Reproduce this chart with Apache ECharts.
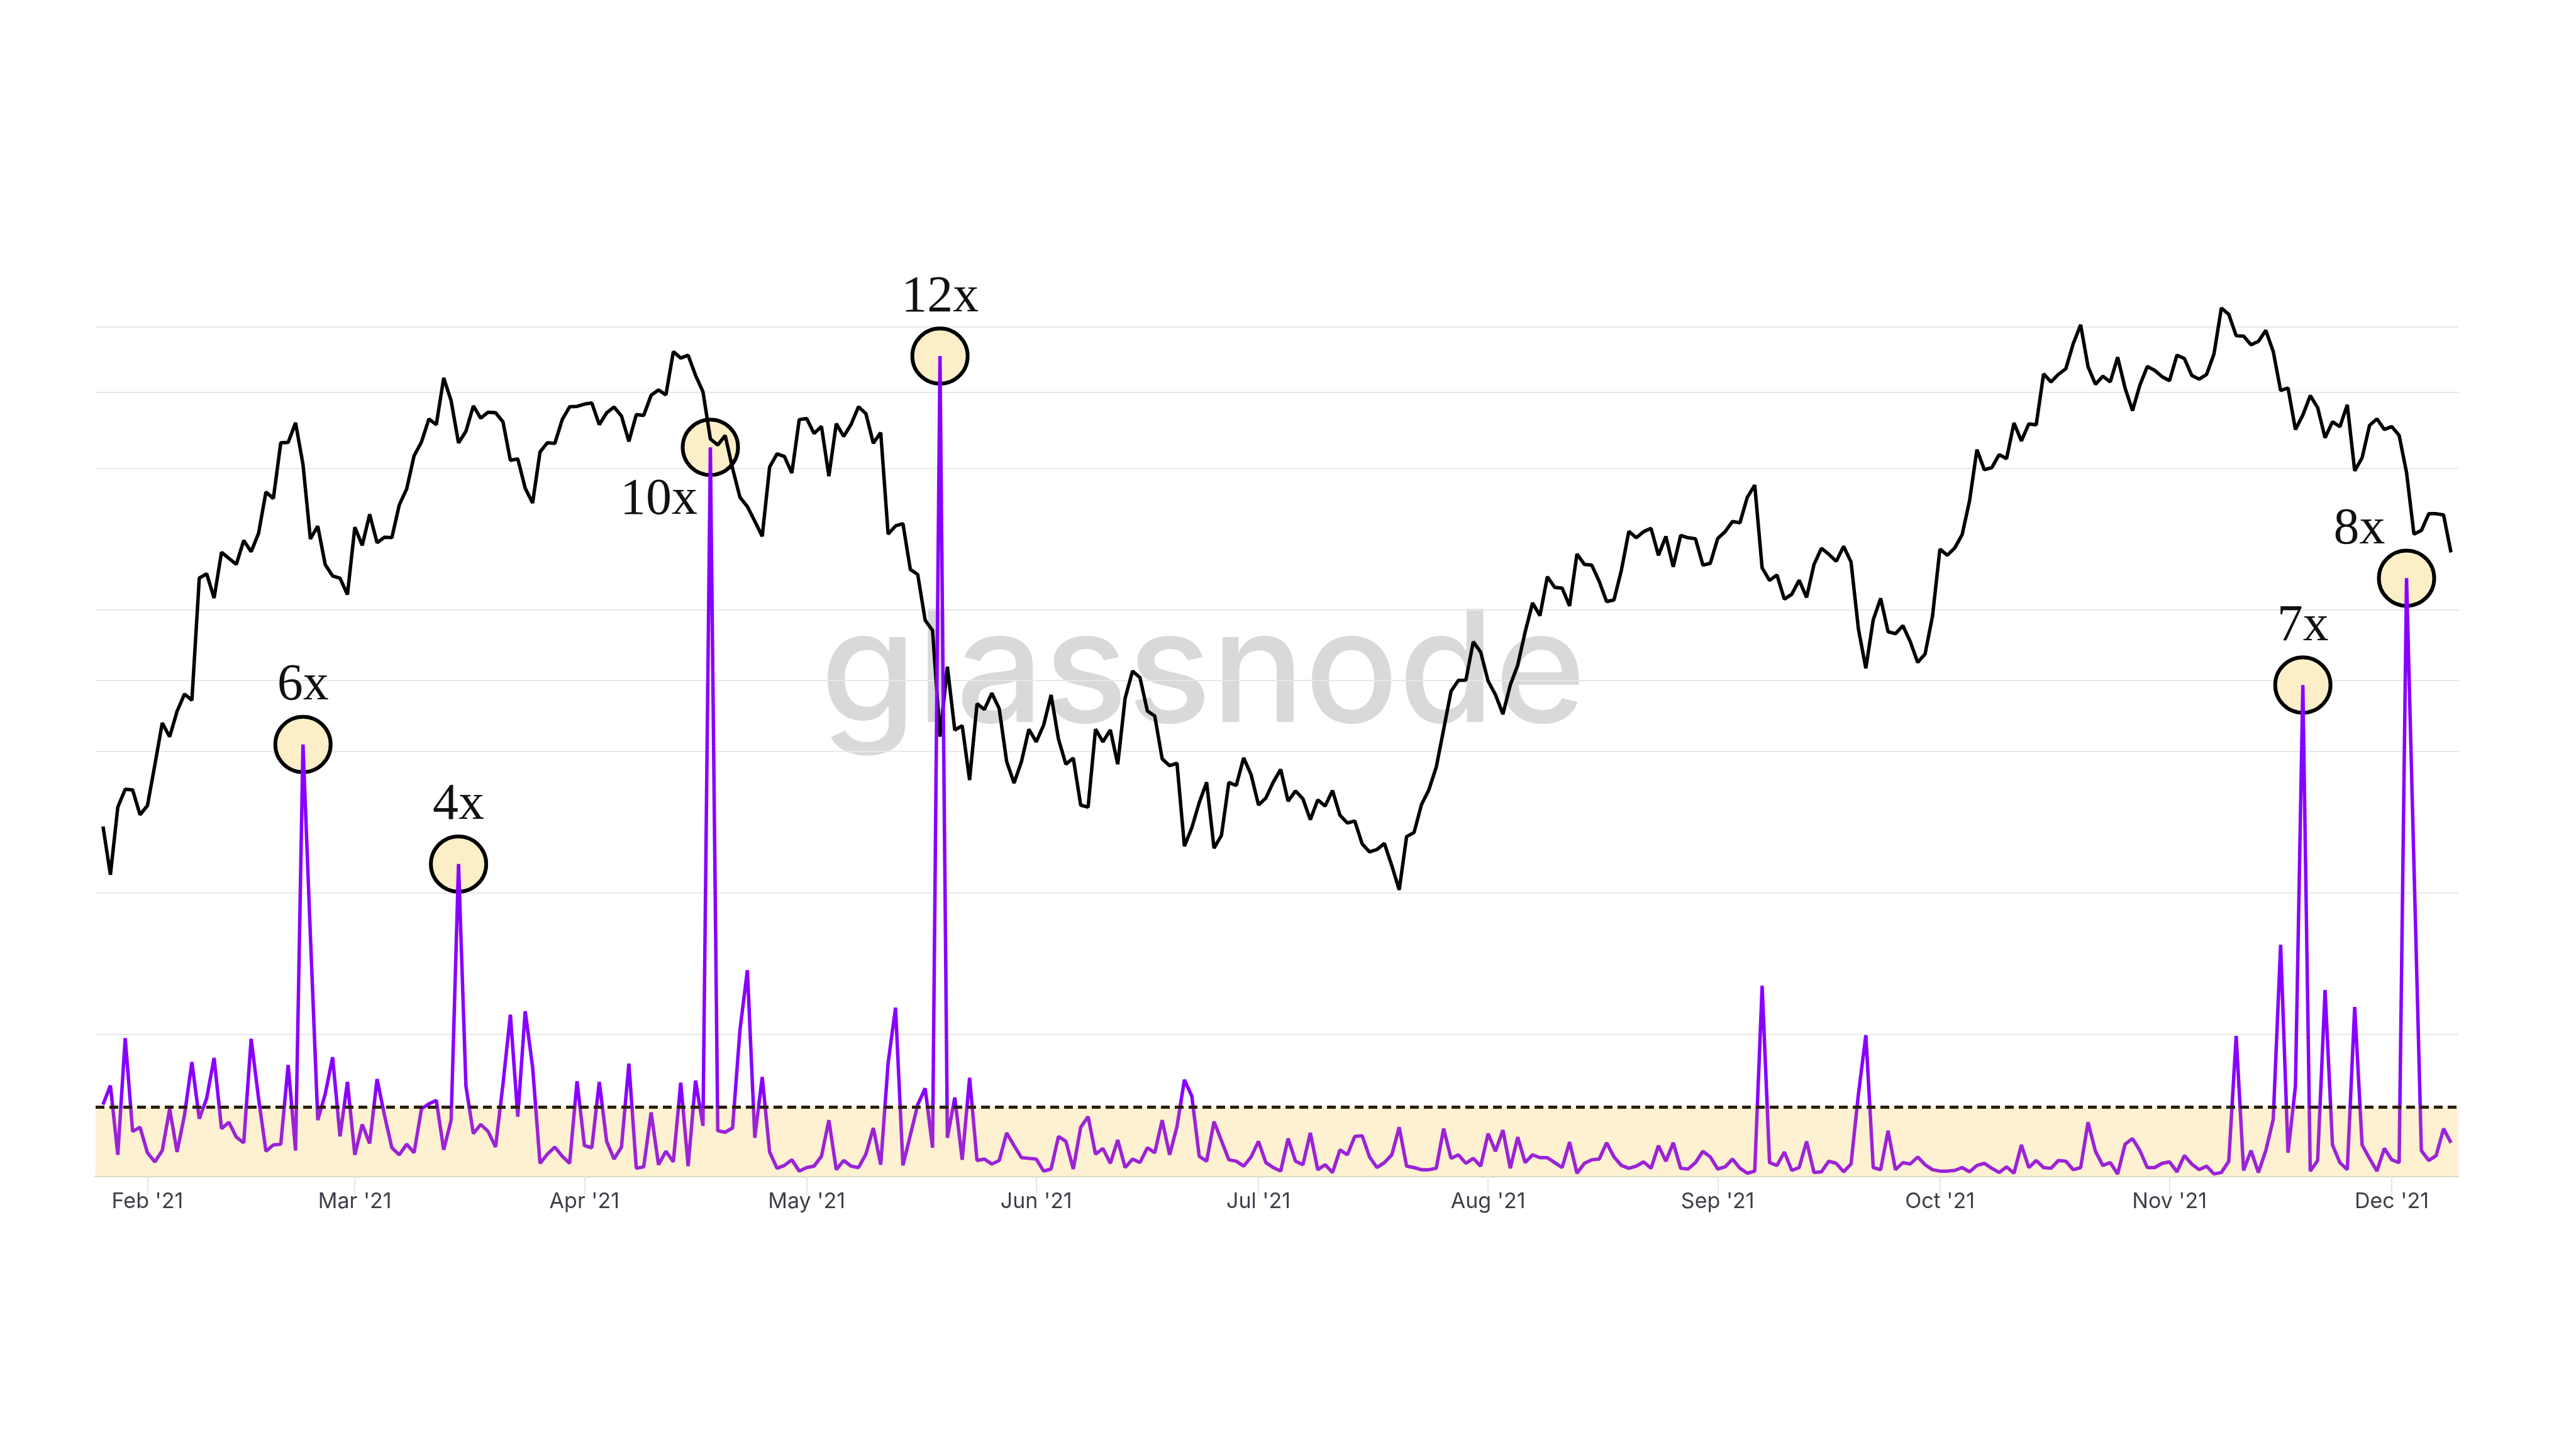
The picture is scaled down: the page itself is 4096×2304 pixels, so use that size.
<!DOCTYPE html>
<html>
<head>
<meta charset="utf-8">
<script src="https://cdn.jsdelivr.net/npm/echarts@6/dist/echarts.min.js"></script>
<style>
html,body{margin:0;padding:0;background:#ffffff;}
#chart{width:4096px;height:2304px;}
</style>
</head>
<body>
<div id="chart"></div>
<script>
// ---------- DATA ----------
// Daily BTC price (USD), starting 2021-01-26
const priceFirstDate = '2021-01-26';
const priceJan = [32570, 30430, 33470, 34320, 34290, 33110];
const priceFeb = [33540, 35520, 37680, 36950, 38300, 39240, 38900, 46200, 46480, 44920,
                  47910, 47500, 47100, 48720, 47950, 49200, 52150, 51680, 55890, 55920,
                  57490, 54210, 48820, 49700, 47090, 46340, 46190, 45140];
const priceMar = [49630, 48380, 50540, 48560, 48930, 48910, 51210, 52380, 54880, 55960,
                  57800, 57330, 61240, 59300, 55880, 56810, 58870, 57860, 58350, 58310,
                  57560, 54530, 54640, 52430, 51350, 55170, 55900, 55840, 57750, 58800, 58830];
const priceApr = [59020, 59110, 57340, 58300, 58780, 58040, 56000, 58150, 58090, 59760,
                  60210, 59790, 63540, 62970, 63220, 61460, 60060, 56200, 55720, 56470,
                  53910, 51760, 51090, 50050, 49000, 54020, 55030, 54820, 53560, 57750];
const priceMay = [57830, 56630, 57200, 53330, 57420, 56400, 57360, 58800, 58230, 55860,
                  56700, 49150, 49720, 49880, 46760, 46430, 43540, 42910, 36960, 40780,
                  37300, 37530, 34770, 38710, 38400, 39290, 38440, 35690, 34620, 35680, 37340];
const priceJun = [36690, 37570, 39190, 36830, 35550, 35860, 33560, 33470, 37350, 36690,
                  37310, 35550, 39020, 40530, 40160, 38320, 38050, 35820, 35480, 35600,
                  31680, 32510, 33680, 34660, 31590, 32160, 34650, 34500, 35870, 35040];
const priceJul = [33570, 33900, 34670, 35290, 33750, 34240, 33860, 32880, 33810, 33520,
                  34260, 33090, 32730, 32820, 31780, 31420, 31530, 31800, 30820, 29790,
                  32110, 32290, 33580, 34290, 35400, 37340, 39400, 40010, 40020, 42240, 41630];
const priceAug = [39970, 39200, 38150, 39750, 40870, 42820, 44610, 43820, 46290, 45600,
                  45550, 44430, 47790, 47100, 47050, 45990, 44700, 44800, 46720, 49340,
                  48900, 49320, 49550, 47700, 48990, 46940, 49060, 48900, 48830, 47050, 47170];
const priceSep = [48850, 49320, 50030, 49940, 51770, 52660, 46860, 46050, 46400, 44850,
                  45160, 46060, 44960, 47090, 48180, 47780, 47300, 48310, 47260, 43000,
                  40690, 43570, 44900, 42840, 42720, 43210, 42240, 41030, 41520, 43790];
const priceOct = [48120, 47710, 48200, 49110, 51510, 55360, 53810, 53970, 54970, 54660,
                  57470, 56040, 57400, 57320, 61590, 60890, 61550, 62030, 64260, 65990,
                  62210, 60690, 61390, 60890, 63040, 60360, 58480, 60620, 62230, 61890, 61340];
const priceNov = [61000, 63230, 62940, 61450, 61130, 61530, 63330, 67570, 66970, 64980,
                  64950, 64160, 64470, 65470, 63560, 60160, 60370, 56940, 58120, 59730,
                  58730, 56290, 57570, 57170, 58960, 53730, 54720, 57270, 57810, 56950];
const priceDec = [57180, 56480, 53600, 49150, 49400, 50580, 50580, 50500, 47900];

// Purple ratio series (multiples of its mean), starting 2021-01-26
const ratioFirstDate = '2021-01-26';
const ratio = [
  1.01,1.28,0.30,1.95,0.63,0.69,0.33,0.20,0.36,0.95,
  0.34,0.86,1.61,0.81,1.10,1.67,0.67,0.76,0.55,0.47,
  1.94,1.10,0.35,0.44,0.45,1.57,0.36,6.10,3.40,0.79,
  1.16,1.68,0.56,1.33,0.30,0.73,0.46,1.37,0.86,0.40,
  0.30,0.45,0.33,0.95,1.02,1.07,0.37,0.79,4.41,1.27,
  0.60,0.73,0.63,0.41,1.30,2.28,0.84,2.33,1.54,0.18,
  0.31,0.41,0.28,0.18,1.34,0.43,0.40,1.33,0.49,0.24,
  0.41,1.59,0.11,0.13,0.90,0.16,0.35,0.20,1.32,0.14,
  1.35,0.71,10.30,0.64,0.62,0.68,2.07,2.91,0.54,1.40,
  0.34,0.11,0.15,0.23,0.07,0.12,0.14,0.28,0.79,0.09,
  0.22,0.14,0.12,0.31,0.68,0.16,1.60,2.38,0.15,0.58,
  1.01,1.24,0.40,11.59,0.54,1.11,0.23,1.39,0.22,0.24,
  0.17,0.22,0.61,0.43,0.26,0.25,0.24,0.07,0.10,0.56,
  0.49,0.10,0.69,0.84,0.31,0.39,0.18,0.51,0.12,0.24,
  0.19,0.40,0.33,0.79,0.30,0.70,1.36,1.13,0.28,0.21,
  0.77,0.50,0.23,0.21,0.14,0.27,0.49,0.19,0.12,0.07,
  0.53,0.21,0.16,0.61,0.09,0.16,0.05,0.37,0.30,0.56,
  0.57,0.27,0.12,0.19,0.30,0.69,0.14,0.12,0.09,0.09,
  0.11,0.67,0.25,0.30,0.18,0.25,0.14,0.60,0.35,0.65,
  0.11,0.55,0.19,0.30,0.26,0.26,0.19,0.12,0.48,0.04,
  0.18,0.23,0.24,0.47,0.27,0.15,0.11,0.14,0.20,0.11,
  0.43,0.21,0.47,0.11,0.10,0.19,0.35,0.27,0.10,0.13,
  0.24,0.11,0.04,0.07,2.69,0.19,0.15,0.34,0.08,0.12,
  0.49,0.05,0.06,0.21,0.18,0.06,0.17,1.16,1.99,0.12,
  0.09,0.64,0.09,0.19,0.17,0.27,0.16,0.09,0.07,0.07,
  0.08,0.12,0.06,0.15,0.18,0.11,0.05,0.13,0.04,0.44,
  0.12,0.22,0.12,0.11,0.22,0.21,0.09,0.12,0.76,0.35,
  0.15,0.19,0.03,0.45,0.53,0.36,0.12,0.12,0.18,0.20,
  0.06,0.29,0.17,0.09,0.14,0.03,0.05,0.21,1.98,0.08,
  0.36,0.05,0.36,0.80,3.27,0.33,1.27,6.94,0.07,0.22,
  2.63,0.44,0.19,0.09,2.39,0.44,0.25,0.07,0.39,0.23,
  0.19,8.45,4.40,0.36,0.22,0.29,0.67,0.47
];

// Dashed threshold (mean level of the ratio)
const threshold = 0.978;

// Annotated spikes
const annotationDates  = ['2021-02-22', '2021-03-15', '2021-04-18', '2021-05-19', '2021-11-19', '2021-12-03'];
const annotationLabels = ['6x', '4x', '10x', '12x', '7x', '8x'];

// Price gridline levels
const priceGridLevels = [40000, 60000];

const monthNames = ['Jan','Feb','Mar','Apr','May','Jun','Jul','Aug','Sep','Oct','Nov','Dec'];

// ---------- BUILD ----------
const categories = [];
for (let t = Date.UTC(2021, 0, 25); t <= Date.UTC(2021, 11, 10); t += 86400000) {
  categories.push(new Date(t).toISOString().slice(0, 10));
}
function align(values, firstDate) {
  const s = categories.indexOf(firstDate);
  return categories.map((_, i) => {
    const k = i - s;
    return (k >= 0 && k < values.length) ? values[k] : null;
  });
}
const priceAll = [].concat(priceJan, priceFeb, priceMar, priceApr, priceMay, priceJun,
                           priceJul, priceAug, priceSep, priceOct, priceNov, priceDec);
const priceData = align(priceAll, priceFirstDate);
const ratioData = align(ratio, ratioFirstDate);

// two-tone purple stroke: vivid above the threshold, muted below (split derived from the data range)
const rMax = Math.max.apply(null, ratio), rMin = Math.min.apply(null, ratio);
const splitAt = (rMax - threshold) / (rMax - rMin);
const ratioStroke = {
  type: 'linear', x: 0, y: 0, x2: 0, y2: 1,
  colorStops: [
    { offset: 0, color: '#8800ff' }, { offset: splitAt, color: '#8800ff' },
    { offset: splitAt, color: '#9c22d6' }, { offset: 1, color: '#9c22d6' }
  ]
};

const labelOffsets = { '10x': [-82, 84], '8x': [-75, -77] };
const defaultOffset = [0, -93];
const annotationData = annotationDates.map((d, i) => {
  const lab = annotationLabels[i];
  return {
    value: [d, ratioData[categories.indexOf(d)]],
    label: { formatter: lab, offset: labelOffsets[lab] || defaultOffset }
  };
});

const isMonthStart = (idx, val) => val.slice(8) === '01';
const fmtMonth = (val) => monthNames[parseInt(val.slice(5, 7), 10) - 1] + " '" + val.slice(2, 4);

const chart = echarts.init(document.getElementById('chart'), null, { renderer: 'canvas' });
chart.setOption({
  animation: false,
  backgroundColor: '#ffffff',
  grid: [
    { left: 152, right: 187, top: 400, bottom: 434 },
    { left: 152, right: 187, top: 520, bottom: 434 }
  ],
  xAxis: [
    { type: 'category', gridIndex: 0, data: categories, boundaryGap: false, show: false },
    {
      type: 'category', gridIndex: 1, data: categories, boundaryGap: false,
      axisLine: { show: true, lineStyle: { color: '#dcd6c6', width: 3 } },
      axisTick: { show: true, interval: isMonthStart, length: 30, lineStyle: { color: '#e6e6e6', width: 2 } },
      axisLabel: { interval: isMonthStart, formatter: fmtMonth, fontFamily: 'Inter', fontSize: 34, color: '#3c3f48', margin: 24 },
      splitLine: { show: false }
    }
  ],
  yAxis: [
    {
      type: 'value', gridIndex: 1, min: 0, max: 12, interval: 2,
      axisLine: { show: false }, axisTick: { show: false }, axisLabel: { show: false },
      splitLine: { show: true, lineStyle: { color: '#e8e8e8', width: 2 } }
    },
    {
      type: 'log', gridIndex: 0, logBase: 10, min: 19911, max: 73156,
      axisLine: { show: false }, axisTick: { show: false }, axisLabel: { show: false },
      splitLine: { show: false }
    }
  ],
  graphic: [{
    type: 'text', x: 1913, y: 1074, z: 0, silent: true,
    style: { text: 'glassnode', font: '500 247px Inter', fill: '#d9d9d9',
             align: 'center', verticalAlign: 'middle', textAlign: 'center', textVerticalAlign: 'middle' }
  }],
  series: [
    {
      name: 'annotations', type: 'scatter', xAxisIndex: 1, yAxisIndex: 0, z: 2,
      symbol: 'circle', symbolSize: 88,
      itemStyle: { color: '#fcefc8', borderColor: '#000000', borderWidth: 6, opacity: 1 },
      label: { show: true, position: 'inside', fontFamily: 'Liberation Serif', fontSize: 82, color: '#111111' },
      emphasis: { disabled: true },
      data: annotationData
    },
    {
      name: 'price', type: 'line', xAxisIndex: 0, yAxisIndex: 1, z: 3,
      data: priceData, symbol: 'none', showSymbol: false,
      lineStyle: { color: '#000000', width: 5.5 },
      emphasis: { disabled: true },
      markLine: {
        z: 1, silent: true, symbol: ['none', 'none'], label: { show: false },
        lineStyle: { type: 'solid', color: '#e8e8e8', width: 2 },
        data: priceGridLevels.map(v => ({ yAxis: v }))
      }
    },
    {
      name: 'ratio', type: 'line', xAxisIndex: 1, yAxisIndex: 0, z: 4,
      data: ratioData, symbol: 'none', showSymbol: false,
      lineStyle: { width: 5.5, color: ratioStroke },
      emphasis: { disabled: true },
      markArea: {
        silent: true, itemStyle: { color: '#fdf1d2' },
        data: [[ { yAxis: 0 }, { yAxis: threshold } ]]
      },
      markLine: {
        silent: true, symbol: ['none', 'none'], label: { show: false },
        lineStyle: { type: [14, 8], color: '#2a1f0d', width: 5 },
        data: [ { yAxis: threshold } ]
      }
    }
  ]
});
</script>
</body>
</html>
